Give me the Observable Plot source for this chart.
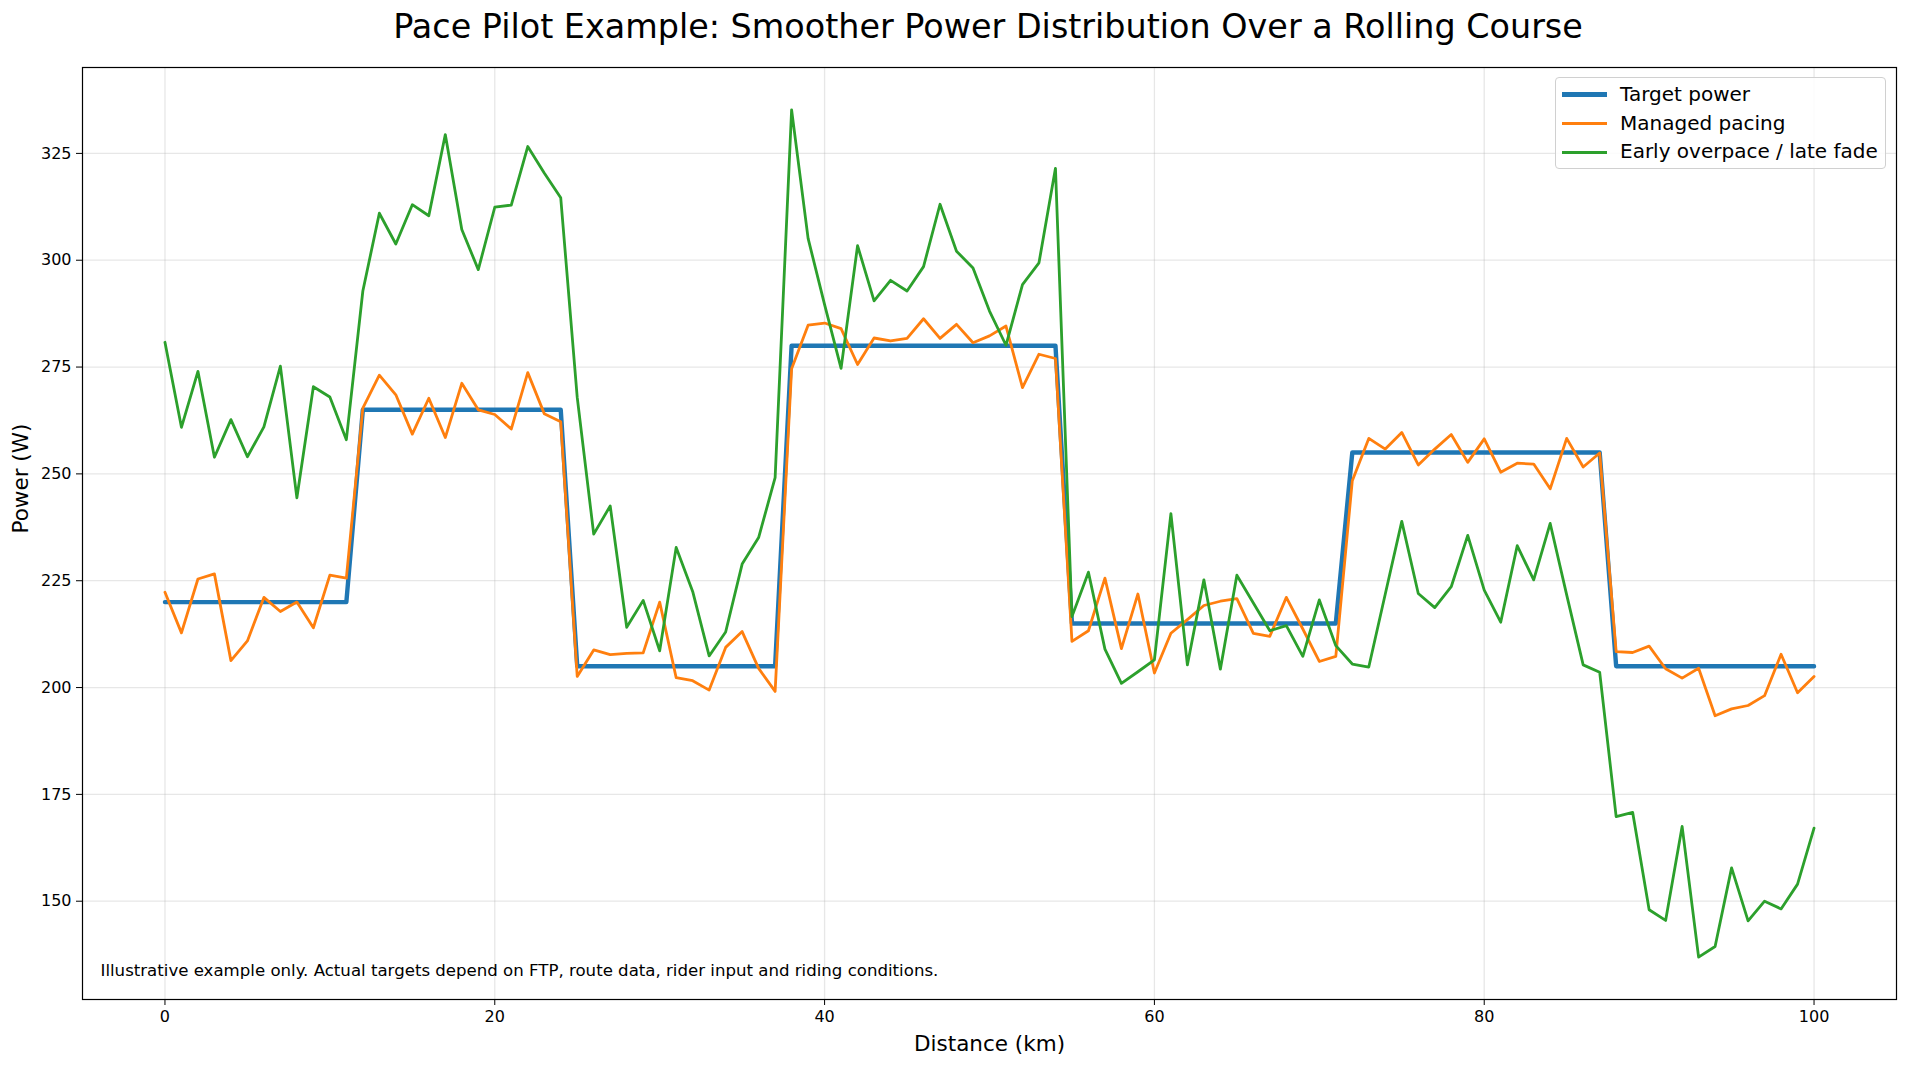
<!DOCTYPE html>
<html>
<head>
<meta charset="utf-8">
<script src="https://cdn.jsdelivr.net/npm/d3@7"></script>
<script src="https://cdn.jsdelivr.net/npm/@observablehq/plot@0.6"></script>
<style>
  html, body { margin: 0; padding: 0; background: white; }
  #wrap { position: relative; width: 1908px; height: 1067px; font-family: "DejaVu Sans", sans-serif; color: black; }
  #title { height: 54px; line-height: 54px; text-align: center; font-size: 33.4px; white-space: nowrap;
           width: 1908px; padding-left: 68px; box-sizing: border-box; }
  #legend { position: absolute; left: 1555px; top: 77px; width: 331px; height: 92px; box-sizing: border-box;
            border: 1.2px solid #d0d0d0; border-radius: 4px; background: rgba(255,255,255,0.85); }
  .row { position: absolute; left: 0; height: 28px; }
  .sw { position: absolute; left: 6px; width: 45px; }
  .lab { position: absolute; left: 64px; font-size: 20px; line-height: 28px; top: -15px; white-space: nowrap; }
</style>
</head>
<body>
<div id="wrap">
  <div id="title"></div>
  <div id="chart"></div>
  <div id="legend"></div>
</div>
<script>
const distance = [0,1,2,3,4,5,6,7,8,9,10,11,12,13,14,15,16,17,18,19,20,21,22,23,24,25,26,27,28,29,30,31,32,33,34,35,36,37,38,39,40,41,42,43,44,45,46,47,48,49,50,51,52,53,54,55,56,57,58,59,60,61,62,63,64,65,66,67,68,69,70,71,72,73,74,75,76,77,78,79,80,81,82,83,84,85,86,87,88,89,90,91,92,93,94,95,96,97,98,99,100];

const targetPower = [
  220,220,220,220,220,220,220,220,220,220,220,220,
  265,265,265,265,265,265,265,265,265,265,265,265,265,
  205,205,205,205,205,205,205,205,205,205,205,205,205,
  280,280,280,280,280,280,280,280,280,280,280,280,280,280,280,280,280,
  215,215,215,215,215,215,215,215,215,215,215,215,215,215,215,215,215,
  255,255,255,255,255,255,255,255,255,255,255,255,255,255,255,255,
  205,205,205,205,205,205,205,205,205,205,205,205,205
];

const managedPacing = [
  222.3,212.8,225.4,226.6,206.3,210.9,221.1,217.8,220.0,214.0,226.3,225.6,
  265.4,273.1,268.5,259.3,267.7,258.5,271.2,265.0,263.9,260.5,273.7,264.1,262.2,
  202.6,208.8,207.7,208.0,208.1,220.0,202.3,201.6,199.4,209.4,213.1,204.5,199.1,
  274.6,284.8,285.3,284.0,275.6,281.8,281.1,281.7,286.3,281.7,285.0,280.7,282.3,284.6,270.2,278.0,277.0,
  210.8,213.3,225.6,209.1,221.9,203.4,212.7,215.9,219.2,220.2,220.8,212.7,212.0,221.1,213.7,206.1,207.3,
  248.4,258.3,255.8,259.7,252.1,255.8,259.2,252.7,258.2,250.4,252.5,252.3,246.5,258.3,251.6,254.9,
  208.4,208.2,209.7,204.4,202.2,204.5,193.4,195.0,195.8,198.1,207.8,198.8,202.6
];

const overpaceFade = [
  280.8,260.9,274.0,253.9,262.7,254.0,261.0,275.2,244.4,270.4,268.0,258.0,
  292.8,311.0,303.8,313.0,310.4,329.4,307.2,297.8,312.4,312.9,326.6,320.4,314.6,
  267.9,235.9,242.5,214.1,220.4,208.6,232.8,222.5,207.4,213.0,228.9,235.1,249.1,
  335.2,305.1,289.6,274.7,303.4,290.5,295.3,292.8,298.5,313.1,302.1,298.2,288.1,280.1,294.3,299.4,321.5,
  216.6,227.0,209.0,201.0,203.7,206.5,240.7,205.3,225.2,204.3,226.3,219.8,213.3,214.5,207.3,220.5,209.8,
  205.5,204.8,221.9,238.9,222.0,218.7,223.6,235.6,222.8,215.3,233.2,225.2,238.4,221.7,205.3,203.6,
  169.8,170.8,148.0,145.5,167.5,136.9,139.4,157.8,145.4,150.0,148.2,154.0,167.1
];

const seriesNames = ["Target power", "Managed pacing", "Early overpace / late fade"];
const seriesColors = ["#1f77b4", "#ff7f0e", "#2ca02c"];
const seriesWidths = [4.4, 2.8, 2.8];
const xTicks = [0, 20, 40, 60, 80, 100];
const yTicks = [150, 175, 200, 225, 250, 275, 300, 325];
const titleText = "Pace Pilot Example: Smoother Power Distribution Over a Rolling Course";
const xLabel = "Distance (km)";
const yLabel = "Power (W)";
const caption = "Illustrative example only. Actual targets depend on FTP, route data, rider input and riding conditions.";

const allSeries = [targetPower, managedPacing, overpaceFade];
const tables = allSeries.map(vals => distance.map((km, i) => ({km, w: vals[i]})));

const gridStyle = {stroke: "#b0b0b0", strokeOpacity: 0.3, strokeWidth: 1.3};

const chart = Plot.plot({
  width: 1908,
  height: 1013,
  marginLeft: 82,
  marginRight: 12,
  marginTop: 13,
  marginBottom: 68,
  style: {fontFamily: "DejaVu Sans, sans-serif", fontSize: "16px", color: "black", background: "white", overflow: "visible"},
  x: {domain: [-5, 105]},
  y: {domain: [127, 345.1]},
  marks: [
    Plot.gridX(xTicks, gridStyle),
    Plot.gridY(yTicks, gridStyle),
    ...tables.map((t, s) => Plot.line(t, {x: "km", y: "w", stroke: seriesColors[s], strokeWidth: seriesWidths[s], strokeLinejoin: "round"})),
    Plot.frame({stroke: "black", strokeWidth: 1.2}),
    Plot.axisX(xTicks, {tickSize: 6, tickPadding: 5, fontSize: 16, label: null}),
    Plot.axisY(yTicks, {tickSize: 6, tickPadding: 5, fontSize: 16, label: null}),
    Plot.text([xLabel], {text: d => d, frameAnchor: "bottom", dy: 51, fontSize: 21.5}),
    Plot.text([yLabel], {text: d => d, frameAnchor: "left", dx: -61, rotate: -90, fontSize: 21.5}),
    Plot.text([caption], {text: d => d, frameAnchor: "bottom-left", dx: 18, dy: -24, textAnchor: "start", fontSize: 16.6})
  ]
});
document.getElementById("chart").appendChild(chart);
document.getElementById("title").textContent = titleText;

const legend = document.getElementById("legend");
const rowY = [16.5, 45.5, 74.3];
seriesNames.forEach((name, s) => {
  const row = document.createElement("div");
  row.className = "row";
  row.style.top = rowY[s] + "px";
  const sw = document.createElement("div");
  sw.className = "sw";
  sw.style.height = seriesWidths[s] + "px";
  sw.style.top = (-seriesWidths[s] / 2) + "px";
  sw.style.background = seriesColors[s];
  const lab = document.createElement("div");
  lab.className = "lab";
  lab.textContent = name;
  row.appendChild(sw);
  row.appendChild(lab);
  legend.appendChild(row);
});
</script>
</body>
</html>
